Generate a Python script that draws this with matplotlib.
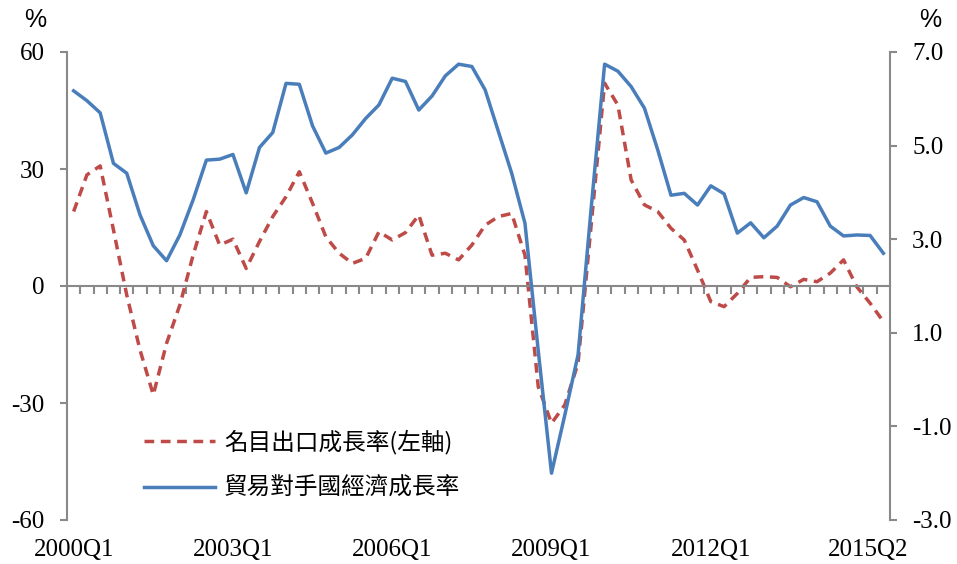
import numpy as np
import matplotlib
matplotlib.use("Agg")
import matplotlib.pyplot as plt
import matplotlib.transforms as mtransforms

plt.rcParams['font.family'] = ['Liberation Serif', 'Noto Sans CJK TC']

# 2000Q1 .. 2015Q2
quarters = [f"{y}Q{q}" for y in range(2000, 2016) for q in range(1, 5)][:62]

# 名目出口成長率 (left axis, %)
export_growth = [19.1, 28.5, 30.8, 14.4, -2.3, -16.4, -27.9, -14.7, -4.9, 7.9,
                 19.1, 10.5, 12.0, 4.5, 11.4, 17.8, 22.9, 29.3, 21.2, 12.6,
                 8.4, 5.8, 7.1, 13.9, 11.8, 13.7, 18.2, 7.9, 8.4, 6.7,
                 10.5, 15.6, 17.8, 18.6, 7.9, -25.8, -35.2, -30.5, -19.8, 16.1,
                 52.0, 46.4, 27.2, 20.8, 19.1, 14.8, 11.8, 4.1, -4.0, -5.3,
                 -1.9, 2.2, 2.4, 2.2, -0.2, 1.7, 1.1, 3.3, 6.7, -0.2,
                 -4.4, -9.1]

# 貿易對手國經濟成長率 (right axis, %)
partner_growth = [6.17, 5.96, 5.70, 4.62, 4.41, 3.52, 2.86, 2.54, 3.09, 3.84,
                  4.69, 4.71, 4.81, 3.99, 4.96, 5.28, 6.33, 6.31, 5.42, 4.84,
                  4.96, 5.23, 5.58, 5.87, 6.44, 6.37, 5.76, 6.06, 6.49, 6.74,
                  6.69, 6.19, 5.30, 4.41, 3.34, 0.62, -2.00, -0.76, 0.53, 3.70,
                  6.74, 6.59, 6.26, 5.80, 4.91, 3.94, 3.98, 3.73, 4.14, 3.97,
                  3.13, 3.35, 3.03, 3.28, 3.73, 3.89, 3.80, 3.28, 3.07, 3.09,
                  3.08, 2.70]

shown_labels = ["2000Q1", "2003Q1", "2006Q1", "2009Q1", "2012Q1", "2015Q2"]
left_ticks = [-60, -30, 0, 30, 60]
right_ticks = [-3.0, -1.0, 1.0, 3.0, 5.0, 7.0]

red = "#BE4B48"
blue = "#4A7EBB"
gray = "#898989"

x = np.arange(len(quarters))

fig = plt.figure(figsize=(9.57, 5.64), dpi=100)
ax = fig.add_axes([67 / 957, 1 - 520 / 564, (890 - 67) / 957, (520 - 52) / 564])
ax2 = ax.twinx()

# 左軸：名目出口成長率
l1, = ax.plot(x, export_growth, color=red, lw=2.5, dashes=(2.8, 1.9),
              dash_capstyle='butt', label="名目出口成長率(左軸)")
# 右軸：貿易對手國經濟成長率
l2, = ax2.plot(x, partner_growth, color=blue, lw=2.5,
               label="貿易對手國經濟成長率")

ax.set_xlim(-0.5, len(quarters) - 0.5)
ax.set_ylim(-60, 60)
ax2.set_ylim(-3, 7)

ax.set_yticks(left_ticks)
ax.set_yticklabels([str(v) for v in left_ticks])
ax2.set_yticks(right_ticks)
ax2.set_yticklabels([f"{v:.1f}" for v in right_ticks])

# 軸線
for s in ["top", "right"]:
    ax.spines[s].set_visible(False)
for s in ["top", "left", "bottom"]:
    ax2.spines[s].set_visible(False)
ax.spines["bottom"].set_position(("data", 0))
ax.spines["bottom"].set_color(gray)
ax.spines["left"].set_color(gray)
ax2.spines["right"].set_color(gray)
for sp in [ax.spines["bottom"], ax.spines["left"], ax2.spines["right"]]:
    sp.set_linewidth(1.5)

ax.set_xticks(np.arange(0.5, len(quarters) - 1, 1))
ax.set_xticklabels([])
ax.tick_params(axis="x", direction="out", length=5.5, width=1.5, color=gray)
ax.tick_params(axis="y", direction="out", length=5, width=1.5, color=gray,
               pad=11, labelsize=18)
ax2.tick_params(axis="y", direction="out", length=5, width=1.5, color=gray,
                pad=11, labelsize=18)

# 橫軸標籤（放在圖底）
trans = mtransforms.blended_transform_factory(ax.transData, ax.transAxes)
for lab in shown_labels:
    i = quarters.index(lab)
    t = trans
    if i == len(quarters) - 1:
        t = trans + mtransforms.ScaledTranslation(-0.15, 0, fig.dpi_scale_trans)
    ax.text(i, -0.064, lab, transform=t, ha="center", va="center", fontsize=18)

# 單位
fig.text(35 / 957, 1 - 20 / 564, "%", ha="center", va="center",
         fontsize=18, family="Liberation Sans")
fig.text(930 / 957, 1 - 20 / 564, "%", ha="center", va="center",
         fontsize=18, family="Liberation Sans")

# 圖例
ax2.legend(handles=[l1, l2], loc="upper left",
           bbox_to_anchor=(132 / 957, 1 - 418 / 564),
           bbox_transform=fig.transFigure, frameon=False,
           prop={"family": ["Noto Sans CJK TC"], "size": 17},
           handlelength=3.0, handletextpad=0.4, labelspacing=0.95,
           borderpad=0)

fig.savefig("out.png", dpi=100)
